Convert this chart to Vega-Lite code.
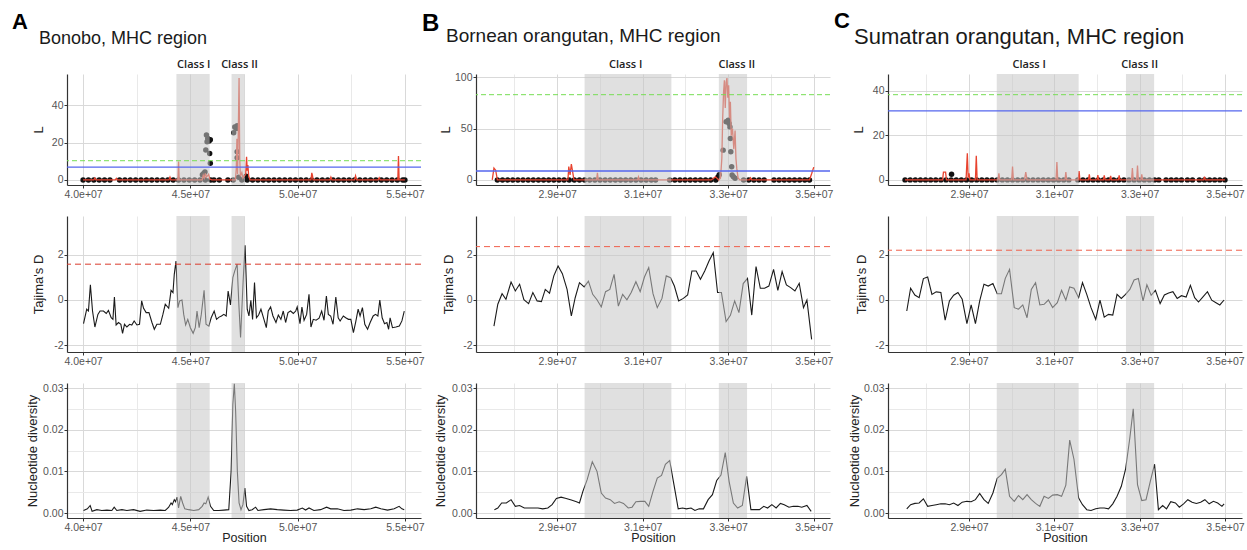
{
"$schema":"https://vega.github.io/schema/vega-lite/v6.json",
"padding":{"left":12,"top":10,"right":5,"bottom":3},
"spacing":-3,
"config":{"view":{"stroke":null},"font":"Liberation Sans",
"axis":{"domainColor":"#333333","domainWidth":1.2,"tickColor":"#333333","tickSize":3,"tickWidth":1,"labelColor":"#555555","labelFontSize":10.5,"labelPadding":1,"titleFontSize":13,"titleFontWeight":"normal","titleColor":"#222222","gridWidth":1,"labelFont":"Liberation Sans","titleFont":"Liberation Sans"}},
"datasets":{
"aR":[{"p":44.35,"p2":45.9,"m":45.16,"lab":"Class I"},{"p":46.92,"p2":47.54,"m":47.29,"lab":"Class II"}],
"bR":[{"p":29.64,"p2":31.67,"m":30.6,"lab":"Class I"},{"p":32.78,"p2":33.44,"m":33.2,"lab":"Class II"}],
"cR":[{"p":29.65,"p2":31.57,"m":30.41,"lab":"Class I"},{"p":32.68,"p2":33.34,"m":33.0,"lab":"Class II"}],
"aL":[{"p":40.0,"v":0},{"p":40.5,"v":0},{"p":40.55,"v":1.0},{"p":40.6,"v":0},{"p":41.5,"v":0},{"p":41.55,"v":0.8},{"p":41.6,"v":0},{"p":44.0,"v":0},{"p":44.05,"v":1.5},{"p":44.1,"v":0},{"p":44.42,"v":0},{"p":44.45,"v":9.8},{"p":44.48,"v":0},{"p":45.55,"v":0},{"p":45.6,"v":2.5},{"p":45.65,"v":1},{"p":45.7,"v":3.5},{"p":45.75,"v":1.5},{"p":45.85,"v":3},{"p":45.9,"v":0.5},{"p":46.0,"v":0},{"p":47.1,"v":0},{"p":47.14,"v":6},{"p":47.17,"v":22},{"p":47.2,"v":3},{"p":47.24,"v":30},{"p":47.27,"v":54.5},{"p":47.3,"v":12},{"p":47.33,"v":2},{"p":47.4,"v":4},{"p":47.45,"v":1},{"p":47.58,"v":3},{"p":47.62,"v":12.4},{"p":47.65,"v":5},{"p":47.68,"v":8},{"p":47.72,"v":2},{"p":47.78,"v":0},{"p":50.62,"v":0},{"p":50.66,"v":3.8},{"p":50.69,"v":2.5},{"p":50.72,"v":0},{"p":51.5,"v":0},{"p":51.55,"v":1.5},{"p":51.6,"v":0},{"p":52.65,"v":0},{"p":52.7,"v":2.2},{"p":52.75,"v":0},{"p":53.75,"v":0},{"p":53.8,"v":1.2},{"p":53.85,"v":0},{"p":54.67,"v":0},{"p":54.7,"v":12.8},{"p":54.73,"v":0},{"p":55.0,"v":0}],
"aP":[{"p":40.0,"v":0},{"p":40.25,"v":0},{"p":40.5,"v":0},{"p":40.75,"v":0},{"p":41.0,"v":0},{"p":41.25,"v":0},{"p":41.7,"v":0},{"p":41.95,"v":0},{"p":42.2,"v":0},{"p":42.45,"v":0},{"p":42.7,"v":0},{"p":42.95,"v":0},{"p":43.2,"v":0},{"p":43.45,"v":0},{"p":43.7,"v":0},{"p":43.95,"v":0},{"p":44.2,"v":0},{"p":44.45,"v":0},{"p":44.7,"v":0},{"p":44.95,"v":0},{"p":45.2,"v":0},{"p":45.45,"v":0},{"p":45.7,"v":0},{"p":45.95,"v":0},{"p":46.1,"v":0},{"p":46.35,"v":0},{"p":46.75,"v":0},{"p":47.0,"v":0},{"p":47.4,"v":0},{"p":47.65,"v":0},{"p":47.9,"v":0},{"p":48.15,"v":0},{"p":48.4,"v":0},{"p":48.65,"v":0},{"p":48.9,"v":0},{"p":49.15,"v":0},{"p":49.4,"v":0},{"p":49.65,"v":0},{"p":49.9,"v":0},{"p":50.15,"v":0},{"p":50.4,"v":0},{"p":50.65,"v":0},{"p":50.9,"v":0},{"p":51.15,"v":0},{"p":51.4,"v":0},{"p":51.65,"v":0},{"p":51.9,"v":0},{"p":52.15,"v":0},{"p":52.4,"v":0},{"p":52.65,"v":0},{"p":52.9,"v":0},{"p":53.15,"v":0},{"p":53.4,"v":0},{"p":53.65,"v":0},{"p":53.9,"v":0},{"p":54.15,"v":0},{"p":54.4,"v":0},{"p":54.65,"v":0},{"p":54.9,"v":0},{"p":55.0,"v":0},
{"p":45.56,"v":2.8},{"p":45.62,"v":3.5},{"p":45.68,"v":4.3},{"p":45.72,"v":16},{"p":45.75,"v":24},{"p":45.78,"v":20.5},{"p":45.81,"v":22.2},{"p":45.87,"v":20.8},{"p":45.9,"v":14.2},{"p":45.93,"v":21.5},{"p":45.93,"v":8.9},{"p":47.02,"v":25.2},{"p":47.07,"v":28.4},{"p":47.12,"v":28},{"p":47.15,"v":27.5},{"p":47.18,"v":29},{"p":47.18,"v":15.1},{"p":47.18,"v":11.9},{"p":47.25,"v":1.5},{"p":47.6,"v":2}],
"aD":[{"p":40.02,"v":-1.05},{"p":40.17,"v":-0.41},{"p":40.25,"v":-0.49},{"p":40.34,"v":0.67},{"p":40.44,"v":-0.49},{"p":40.55,"v":-1.2},{"p":40.69,"v":-0.64},{"p":40.79,"v":-0.49},{"p":40.95,"v":-0.49},{"p":41.08,"v":-0.6},{"p":41.18,"v":-0.46},{"p":41.31,"v":-0.79},{"p":41.39,"v":-0.86},{"p":41.46,"v":0.13},{"p":41.54,"v":-1.11},{"p":41.65,"v":-1.0},{"p":41.76,"v":-1.08},{"p":41.84,"v":-1.48},{"p":41.93,"v":-1.08},{"p":42.04,"v":-1.2},{"p":42.17,"v":-1.08},{"p":42.27,"v":-1.11},{"p":42.38,"v":-0.93},{"p":42.51,"v":-1.11},{"p":42.63,"v":-1.08},{"p":42.73,"v":-0.04},{"p":42.82,"v":-0.37},{"p":42.94,"v":-0.56},{"p":43.07,"v":-0.56},{"p":43.21,"v":-1.0},{"p":43.32,"v":-1.3},{"p":43.44,"v":-1.08},{"p":43.6,"v":-1.08},{"p":43.72,"v":-0.64},{"p":43.83,"v":-0.19},{"p":43.99,"v":-0.37},{"p":44.1,"v":0.43},{"p":44.19,"v":0.33},{"p":44.25,"v":1.14},{"p":44.33,"v":1.73},{"p":44.42,"v":-0.34},{"p":44.5,"v":-0.04},{"p":44.61,"v":0.0},{"p":44.69,"v":-0.64},{"p":44.78,"v":-1.11},{"p":44.88,"v":-0.86},{"p":45.0,"v":-1.23},{"p":45.13,"v":-1.48},{"p":45.23,"v":-1.23},{"p":45.31,"v":-0.49},{"p":45.41,"v":-1.23},{"p":45.51,"v":-0.64},{"p":45.64,"v":0.43},{"p":45.73,"v":-1.08},{"p":45.86,"v":-1.16},{"p":45.97,"v":-0.79},{"p":46.11,"v":-0.49},{"p":46.22,"v":-0.86},{"p":46.34,"v":-0.76},{"p":46.45,"v":-0.71},{"p":46.56,"v":-0.64},{"p":46.67,"v":-0.71},{"p":46.76,"v":0.4},{"p":46.87,"v":-0.22},{"p":46.98,"v":0.99},{"p":47.07,"v":1.29},{"p":47.18,"v":1.59},{"p":47.26,"v":-0.19},{"p":47.34,"v":-1.67},{"p":47.46,"v":0.84},{"p":47.55,"v":2.43},{"p":47.65,"v":-0.41},{"p":47.73,"v":-0.71},{"p":47.82,"v":-0.01},{"p":47.9,"v":-0.86},{"p":47.99,"v":0.77},{"p":48.08,"v":-0.79},{"p":48.18,"v":-0.67},{"p":48.29,"v":-0.41},{"p":48.43,"v":-0.86},{"p":48.54,"v":-1.23},{"p":48.63,"v":-0.49},{"p":48.74,"v":-0.31},{"p":48.85,"v":-0.71},{"p":48.99,"v":-1.0},{"p":49.1,"v":-0.67},{"p":49.22,"v":-0.86},{"p":49.33,"v":-0.49},{"p":49.44,"v":-1.0},{"p":49.55,"v":-0.56},{"p":49.67,"v":-0.49},{"p":49.8,"v":-0.6},{"p":49.91,"v":-0.49},{"p":49.98,"v":-0.31},{"p":50.11,"v":-1.05},{"p":50.2,"v":-0.31},{"p":50.3,"v":-0.9},{"p":50.42,"v":-0.64},{"p":50.53,"v":0.25},{"p":50.62,"v":-1.2},{"p":50.73,"v":-0.86},{"p":50.86,"v":-0.9},{"p":51.0,"v":-0.81},{"p":51.12,"v":-0.49},{"p":51.23,"v":-0.9},{"p":51.34,"v":0.18},{"p":51.43,"v":-0.64},{"p":51.54,"v":-0.71},{"p":51.65,"v":-1.08},{"p":51.78,"v":0.13},{"p":51.89,"v":-0.79},{"p":51.98,"v":-0.93},{"p":52.13,"v":-0.71},{"p":52.24,"v":-0.79},{"p":52.37,"v":-0.86},{"p":52.48,"v":-0.86},{"p":52.6,"v":-1.45},{"p":52.71,"v":-0.96},{"p":52.82,"v":-0.41},{"p":52.91,"v":-0.71},{"p":53.02,"v":-0.34},{"p":53.13,"v":-1.08},{"p":53.26,"v":-1.3},{"p":53.38,"v":-1.0},{"p":53.52,"v":-0.71},{"p":53.63,"v":-0.64},{"p":53.74,"v":-0.71},{"p":53.83,"v":0.0},{"p":53.94,"v":-0.79},{"p":54.05,"v":-1.05},{"p":54.16,"v":-1.0},{"p":54.24,"v":-1.3},{"p":54.31,"v":-0.79},{"p":54.42,"v":-1.23},{"p":54.58,"v":-1.2},{"p":54.74,"v":-1.16},{"p":54.86,"v":-0.93},{"p":54.97,"v":-0.49}],
"aN":[{"p":40.02,"v":0.0006},{"p":40.2,"v":0.001},{"p":40.33,"v":0.0018},{"p":40.42,"v":0.0004},{"p":40.64,"v":0.0008},{"p":40.87,"v":0.0006},{"p":41.11,"v":0.0007},{"p":41.34,"v":0.0006},{"p":41.45,"v":0.0014},{"p":41.57,"v":0.0006},{"p":41.81,"v":0.0008},{"p":42.04,"v":0.0006},{"p":42.35,"v":0.0008},{"p":42.66,"v":0.0004},{"p":42.97,"v":0.0007},{"p":43.29,"v":0.0006},{"p":43.6,"v":0.0007},{"p":43.83,"v":0.0006},{"p":43.99,"v":0.0014},{"p":44.1,"v":0.0024},{"p":44.16,"v":0.002},{"p":44.25,"v":0.0032},{"p":44.31,"v":0.0027},{"p":44.38,"v":0.0038},{"p":44.45,"v":0.0012},{"p":44.55,"v":0.004},{"p":44.64,"v":0.0024},{"p":44.74,"v":0.001},{"p":44.92,"v":0.0008},{"p":45.16,"v":0.0006},{"p":45.39,"v":0.0008},{"p":45.55,"v":0.0016},{"p":45.64,"v":0.0024},{"p":45.72,"v":0.0022},{"p":45.83,"v":0.0038},{"p":45.94,"v":0.0016},{"p":46.09,"v":0.0006},{"p":46.32,"v":0.0006},{"p":46.56,"v":0.0007},{"p":46.79,"v":0.0008},{"p":46.9,"v":0.01},{"p":46.98,"v":0.0261},{"p":47.05,"v":0.031},{"p":47.11,"v":0.0245},{"p":47.19,"v":0.01},{"p":47.27,"v":0.0024},{"p":47.36,"v":0.0008},{"p":47.45,"v":0.002},{"p":47.54,"v":0.006},{"p":47.62,"v":0.0016},{"p":47.73,"v":0.0006},{"p":47.88,"v":0.0008},{"p":48.04,"v":0.0014},{"p":48.15,"v":0.0006},{"p":48.43,"v":0.0008},{"p":48.74,"v":0.001},{"p":49.05,"v":0.0008},{"p":49.36,"v":0.0007},{"p":49.67,"v":0.0006},{"p":49.98,"v":0.0007},{"p":50.22,"v":0.0012},{"p":50.37,"v":0.0007},{"p":50.53,"v":0.0012},{"p":50.76,"v":0.0006},{"p":51.07,"v":0.0008},{"p":51.35,"v":0.0014},{"p":51.54,"v":0.001},{"p":51.85,"v":0.001},{"p":52.16,"v":0.0006},{"p":52.48,"v":0.0007},{"p":52.79,"v":0.001},{"p":53.1,"v":0.0008},{"p":53.41,"v":0.001},{"p":53.64,"v":0.0014},{"p":53.88,"v":0.001},{"p":54.19,"v":0.0007},{"p":54.5,"v":0.001},{"p":54.73,"v":0.0016},{"p":54.86,"v":0.001},{"p":54.97,"v":0.0008}],
"bL":[{"p":27.48,"v":0},{"p":27.52,"v":11.5},{"p":27.56,"v":9.5},{"p":27.6,"v":0},{"p":29.25,"v":0},{"p":29.27,"v":13},{"p":29.3,"v":5},{"p":29.33,"v":15.5},{"p":29.36,"v":8},{"p":29.39,"v":0},{"p":29.92,"v":0},{"p":29.94,"v":7},{"p":29.96,"v":0},{"p":30.88,"v":0},{"p":30.9,"v":3},{"p":30.92,"v":0},{"p":32.6,"v":0},{"p":32.7,"v":3},{"p":32.78,"v":0},{"p":32.82,"v":2},{"p":32.85,"v":21},{"p":32.87,"v":60},{"p":32.89,"v":85},{"p":32.91,"v":97},{"p":32.93,"v":70},{"p":32.95,"v":95},{"p":32.97,"v":99},{"p":32.99,"v":80},{"p":33.01,"v":92},{"p":33.03,"v":60},{"p":33.05,"v":76},{"p":33.07,"v":43},{"p":33.1,"v":50},{"p":33.13,"v":30},{"p":33.16,"v":48},{"p":33.18,"v":21},{"p":33.2,"v":11},{"p":33.23,"v":2},{"p":33.27,"v":0},{"p":33.5,"v":0},{"p":33.52,"v":2},{"p":33.55,"v":0},{"p":34.9,"v":0},{"p":34.95,"v":6},{"p":35.0,"v":12.5}],
"bP":[{"p":27.6,"v":0},{"p":27.72,"v":0},{"p":27.84,"v":0},{"p":27.96,"v":0},{"p":28.08,"v":0},{"p":28.2,"v":0},{"p":28.32,"v":0},{"p":28.44,"v":0},{"p":28.56,"v":0},{"p":28.68,"v":0},{"p":28.8,"v":0},{"p":28.92,"v":0},{"p":29.04,"v":0},{"p":29.16,"v":0},{"p":29.28,"v":0},{"p":29.4,"v":0},{"p":29.52,"v":0},{"p":29.64,"v":0},{"p":29.76,"v":0},{"p":29.88,"v":0},{"p":30.0,"v":0},{"p":30.12,"v":0},{"p":30.24,"v":0},{"p":30.36,"v":0},{"p":30.48,"v":0},{"p":30.6,"v":0},{"p":30.72,"v":0},{"p":30.84,"v":0},{"p":30.96,"v":0},{"p":31.08,"v":0},{"p":31.2,"v":0},{"p":31.3,"v":0},{"p":31.63,"v":0},{"p":31.75,"v":0},{"p":31.87,"v":0},{"p":31.99,"v":0},{"p":32.11,"v":0},{"p":32.23,"v":0},{"p":32.35,"v":0},{"p":32.47,"v":0},{"p":32.59,"v":0},{"p":32.71,"v":0},{"p":33.36,"v":0},{"p":33.48,"v":0},{"p":33.6,"v":0},{"p":33.72,"v":0},{"p":33.84,"v":0},{"p":34.07,"v":0},{"p":34.19,"v":0},{"p":34.31,"v":0},{"p":34.43,"v":0},{"p":34.55,"v":0},{"p":34.67,"v":0},{"p":34.79,"v":0},{"p":34.9,"v":0},
{"p":32.76,"v":3},{"p":32.79,"v":5},{"p":32.88,"v":29},{"p":32.95,"v":56.5},{"p":33.0,"v":58},{"p":33.02,"v":55},{"p":33.04,"v":51.6},{"p":33.05,"v":40.3},{"p":33.06,"v":27.4},{"p":33.08,"v":12.9},{"p":33.09,"v":4.8},{"p":33.12,"v":3.2},{"p":33.16,"v":1.6}],
"bD":[{"p":27.52,"v":-1.16},{"p":27.61,"v":-0.19},{"p":27.71,"v":0.28},{"p":27.8,"v":0.03},{"p":27.92,"v":0.8},{"p":28.02,"v":0.4},{"p":28.12,"v":0.7},{"p":28.22,"v":0.01},{"p":28.33,"v":-0.16},{"p":28.43,"v":0.33},{"p":28.53,"v":-0.04},{"p":28.63,"v":-0.07},{"p":28.72,"v":0.47},{"p":28.82,"v":0.3},{"p":28.92,"v":1.07},{"p":29.02,"v":1.51},{"p":29.12,"v":1.17},{"p":29.23,"v":0.47},{"p":29.33,"v":-0.71},{"p":29.42,"v":0.1},{"p":29.52,"v":0.77},{"p":29.63,"v":0.58},{"p":29.73,"v":0.84},{"p":29.83,"v":0.25},{"p":29.93,"v":0.01},{"p":30.03,"v":-0.31},{"p":30.13,"v":0.37},{"p":30.23,"v":0.47},{"p":30.33,"v":1.14},{"p":30.43,"v":-0.27},{"p":30.53,"v":0.25},{"p":30.63,"v":0.01},{"p":30.73,"v":0.33},{"p":30.84,"v":0.81},{"p":30.94,"v":0.37},{"p":31.04,"v":1.02},{"p":31.14,"v":1.44},{"p":31.24,"v":0.28},{"p":31.34,"v":-0.34},{"p":31.45,"v":0.07},{"p":31.55,"v":1.07},{"p":31.65,"v":0.99},{"p":31.74,"v":0.62},{"p":31.84,"v":-0.04},{"p":31.95,"v":0.07},{"p":32.05,"v":0.22},{"p":32.15,"v":1.29},{"p":32.25,"v":1.29},{"p":32.35,"v":0.92},{"p":32.45,"v":1.29},{"p":32.55,"v":1.73},{"p":32.65,"v":2.1},{"p":32.75,"v":0.33},{"p":32.84,"v":0.33},{"p":32.95,"v":-0.96},{"p":33.05,"v":-0.68},{"p":33.15,"v":-0.04},{"p":33.25,"v":-0.56},{"p":33.35,"v":0.73},{"p":33.45,"v":0.96},{"p":33.55,"v":-0.67},{"p":33.65,"v":1.48},{"p":33.75,"v":0.52},{"p":33.85,"v":0.52},{"p":33.95,"v":0.62},{"p":34.06,"v":1.36},{"p":34.16,"v":0.43},{"p":34.26,"v":1.26},{"p":34.36,"v":0.67},{"p":34.46,"v":0.55},{"p":34.56,"v":0.4},{"p":34.66,"v":0.74},{"p":34.76,"v":-0.34},{"p":34.84,"v":0.0},{"p":34.95,"v":-1.75}],
"bN":[{"p":27.53,"v":0.0008},{"p":27.61,"v":0.0012},{"p":27.7,"v":0.0024},{"p":27.81,"v":0.0024},{"p":27.92,"v":0.0032},{"p":28.02,"v":0.0016},{"p":28.12,"v":0.0018},{"p":28.23,"v":0.0012},{"p":28.39,"v":0.0012},{"p":28.55,"v":0.0012},{"p":28.66,"v":0.001},{"p":28.78,"v":0.0012},{"p":28.88,"v":0.002},{"p":28.98,"v":0.0035},{"p":29.09,"v":0.0038},{"p":29.21,"v":0.0035},{"p":29.33,"v":0.0031},{"p":29.45,"v":0.0027},{"p":29.52,"v":0.0024},{"p":29.6,"v":0.0052},{"p":29.7,"v":0.008},{"p":29.82,"v":0.0123},{"p":29.93,"v":0.01},{"p":30.03,"v":0.0048},{"p":30.13,"v":0.0036},{"p":30.24,"v":0.0032},{"p":30.34,"v":0.0023},{"p":30.45,"v":0.0027},{"p":30.55,"v":0.0023},{"p":30.66,"v":0.0012},{"p":30.75,"v":0.0014},{"p":30.84,"v":0.0027},{"p":30.95,"v":0.0028},{"p":31.05,"v":0.0028},{"p":31.14,"v":0.0016},{"p":31.24,"v":0.0052},{"p":31.34,"v":0.0084},{"p":31.44,"v":0.009},{"p":31.53,"v":0.0117},{"p":31.63,"v":0.0126},{"p":31.73,"v":0.0068},{"p":31.83,"v":0.001},{"p":31.93,"v":0.0012},{"p":32.02,"v":0.001},{"p":32.13,"v":0.0012},{"p":32.22,"v":0.0006},{"p":32.32,"v":0.001},{"p":32.42,"v":0.001},{"p":32.53,"v":0.0032},{"p":32.63,"v":0.0044},{"p":32.73,"v":0.0078},{"p":32.83,"v":0.0091},{"p":32.93,"v":0.0145},{"p":33.02,"v":0.0076},{"p":33.12,"v":0.0024},{"p":33.22,"v":0.0012},{"p":33.33,"v":0.0018},{"p":33.43,"v":0.0088},{"p":33.53,"v":0.0008},{"p":33.63,"v":0.0008},{"p":33.73,"v":0.0008},{"p":33.83,"v":0.0016},{"p":33.92,"v":0.0012},{"p":34.02,"v":0.002},{"p":34.12,"v":0.0012},{"p":34.22,"v":0.0023},{"p":34.31,"v":0.002},{"p":34.42,"v":0.0014},{"p":34.52,"v":0.0016},{"p":34.63,"v":0.0016},{"p":34.72,"v":0.0014},{"p":34.84,"v":0.0018},{"p":34.94,"v":0.0004}],
"cL":[{"p":27.5,"v":0},{"p":28.38,"v":0},{"p":28.4,"v":3.5},{"p":28.45,"v":3.5},{"p":28.47,"v":0},{"p":28.93,"v":0},{"p":28.96,"v":12},{"p":28.98,"v":1},{"p":29.0,"v":3},{"p":29.02,"v":0},{"p":29.15,"v":0},{"p":29.17,"v":10.8},{"p":29.19,"v":0},{"p":29.68,"v":0},{"p":29.7,"v":3},{"p":29.72,"v":0},{"p":30.0,"v":0},{"p":30.02,"v":6},{"p":30.04,"v":0},{"p":30.3,"v":0},{"p":30.33,"v":3.5},{"p":30.36,"v":0},{"p":31.04,"v":0},{"p":31.06,"v":8},{"p":31.08,"v":0},{"p":31.25,"v":0},{"p":31.27,"v":3.5},{"p":31.29,"v":0},{"p":31.56,"v":0},{"p":31.58,"v":4},{"p":31.6,"v":0},{"p":31.8,"v":0},{"p":31.82,"v":2.5},{"p":31.84,"v":0},{"p":32.0,"v":0},{"p":32.02,"v":2.2},{"p":32.04,"v":0},{"p":32.15,"v":0},{"p":32.17,"v":2},{"p":32.19,"v":0},{"p":32.3,"v":0},{"p":32.32,"v":1.8},{"p":32.34,"v":0},{"p":32.5,"v":0},{"p":32.52,"v":2},{"p":32.54,"v":0},{"p":32.81,"v":0},{"p":32.83,"v":5.3},{"p":32.85,"v":0},{"p":32.93,"v":0},{"p":32.95,"v":6.4},{"p":32.97,"v":0},{"p":33.03,"v":0},{"p":33.05,"v":2.5},{"p":33.07,"v":0},{"p":34.5,"v":0},{"p":34.52,"v":1.5},{"p":34.54,"v":0},{"p":35.0,"v":0}],
"cP":[{"p":27.5,"v":0},{"p":27.62,"v":0},{"p":27.74,"v":0},{"p":27.86,"v":0},{"p":27.98,"v":0},{"p":28.1,"v":0},{"p":28.22,"v":0},{"p":28.34,"v":0},{"p":28.46,"v":0},{"p":28.58,"v":0},{"p":28.7,"v":0},{"p":28.82,"v":0},{"p":28.94,"v":0},{"p":29.06,"v":0},{"p":29.18,"v":0},{"p":29.3,"v":0},{"p":29.42,"v":0},{"p":29.54,"v":0},{"p":29.66,"v":0},{"p":29.78,"v":0},{"p":29.9,"v":0},{"p":30.02,"v":0},{"p":30.14,"v":0},{"p":30.26,"v":0},{"p":30.38,"v":0},{"p":30.5,"v":0},{"p":30.62,"v":0},{"p":30.74,"v":0},{"p":30.86,"v":0},{"p":30.98,"v":0},{"p":31.1,"v":0},{"p":31.22,"v":0},{"p":31.34,"v":0},{"p":31.55,"v":0},{"p":31.67,"v":0},{"p":31.79,"v":0},{"p":31.91,"v":0},{"p":32.03,"v":0},{"p":32.15,"v":0},{"p":32.27,"v":0},{"p":32.39,"v":0},{"p":32.51,"v":0},{"p":32.63,"v":0},{"p":32.75,"v":0},{"p":32.87,"v":0},{"p":32.99,"v":0},{"p":33.11,"v":0},{"p":33.23,"v":0},{"p":33.35,"v":0},{"p":33.45,"v":0},{"p":33.62,"v":0},{"p":33.74,"v":0},{"p":33.86,"v":0},{"p":33.98,"v":0},{"p":34.12,"v":0},{"p":34.24,"v":0},{"p":34.4,"v":0},{"p":34.52,"v":0},{"p":34.64,"v":0},{"p":34.76,"v":0},{"p":34.88,"v":0},{"p":35.0,"v":0},{"p":28.59,"v":2.5}],
"cD":[{"p":27.54,"v":-0.49},{"p":27.63,"v":0.52},{"p":27.73,"v":0.22},{"p":27.83,"v":0.1},{"p":27.93,"v":0.95},{"p":28.03,"v":1.02},{"p":28.13,"v":0.25},{"p":28.23,"v":0.36},{"p":28.34,"v":0.33},{"p":28.44,"v":-0.9},{"p":28.54,"v":-0.04},{"p":28.64,"v":0.21},{"p":28.74,"v":0.33},{"p":28.84,"v":0.03},{"p":28.95,"v":-1.05},{"p":29.05,"v":-0.22},{"p":29.15,"v":-1.05},{"p":29.25,"v":-0.04},{"p":29.35,"v":0.7},{"p":29.45,"v":0.62},{"p":29.56,"v":0.73},{"p":29.66,"v":0.28},{"p":29.76,"v":0.28},{"p":29.85,"v":0.96},{"p":29.95,"v":1.36},{"p":30.06,"v":-0.34},{"p":30.16,"v":-0.41},{"p":30.26,"v":-0.22},{"p":30.36,"v":-0.79},{"p":30.46,"v":0.47},{"p":30.56,"v":0.77},{"p":30.66,"v":-0.22},{"p":30.76,"v":-0.19},{"p":30.86,"v":0.0},{"p":30.96,"v":-0.34},{"p":31.07,"v":-0.12},{"p":31.17,"v":0.43},{"p":31.27,"v":-0.01},{"p":31.36,"v":0.58},{"p":31.46,"v":0.52},{"p":31.57,"v":0.1},{"p":31.66,"v":0.77},{"p":31.76,"v":0.25},{"p":31.86,"v":-0.34},{"p":31.97,"v":-0.86},{"p":32.07,"v":-0.01},{"p":32.17,"v":-0.76},{"p":32.27,"v":-0.64},{"p":32.37,"v":-0.67},{"p":32.47,"v":0.25},{"p":32.57,"v":0.07},{"p":32.67,"v":0.25},{"p":32.77,"v":0.47},{"p":32.87,"v":0.89},{"p":32.97,"v":0.96},{"p":33.08,"v":-0.04},{"p":33.17,"v":0.67},{"p":33.27,"v":0.21},{"p":33.37,"v":0.43},{"p":33.48,"v":-0.16},{"p":33.58,"v":0.22},{"p":33.68,"v":0.31},{"p":33.78,"v":0.37},{"p":33.88,"v":0.07},{"p":33.98,"v":0.19},{"p":34.09,"v":0.13},{"p":34.19,"v":0.65},{"p":34.29,"v":0.1},{"p":34.38,"v":-0.09},{"p":34.48,"v":0.13},{"p":34.59,"v":0.37},{"p":34.69,"v":-0.01},{"p":34.79,"v":-0.12},{"p":34.88,"v":-0.22},{"p":34.98,"v":0.0}],
"cN":[{"p":27.54,"v":0.001},{"p":27.63,"v":0.002},{"p":27.73,"v":0.0023},{"p":27.83,"v":0.0024},{"p":27.93,"v":0.0034},{"p":28.03,"v":0.0016},{"p":28.13,"v":0.0018},{"p":28.23,"v":0.002},{"p":28.34,"v":0.0022},{"p":28.44,"v":0.0022},{"p":28.54,"v":0.002},{"p":28.64,"v":0.0024},{"p":28.74,"v":0.0018},{"p":28.84,"v":0.0026},{"p":28.95,"v":0.0028},{"p":29.05,"v":0.0027},{"p":29.15,"v":0.0032},{"p":29.25,"v":0.0047},{"p":29.35,"v":0.0032},{"p":29.45,"v":0.0023},{"p":29.56,"v":0.0048},{"p":29.66,"v":0.0083},{"p":29.76,"v":0.0092},{"p":29.85,"v":0.0105},{"p":29.95,"v":0.004},{"p":30.06,"v":0.0028},{"p":30.16,"v":0.0042},{"p":30.26,"v":0.0032},{"p":30.36,"v":0.0044},{"p":30.46,"v":0.0032},{"p":30.56,"v":0.0023},{"p":30.66,"v":0.0016},{"p":30.76,"v":0.004},{"p":30.86,"v":0.0035},{"p":30.96,"v":0.0043},{"p":31.07,"v":0.0044},{"p":31.17,"v":0.004},{"p":31.27,"v":0.0067},{"p":31.36,"v":0.0175},{"p":31.46,"v":0.0129},{"p":31.57,"v":0.0036},{"p":31.66,"v":0.002},{"p":31.76,"v":0.0008},{"p":31.86,"v":0.0006},{"p":31.97,"v":0.001},{"p":32.07,"v":0.0012},{"p":32.17,"v":0.0012},{"p":32.27,"v":0.001},{"p":32.37,"v":0.0022},{"p":32.47,"v":0.004},{"p":32.57,"v":0.0064},{"p":32.67,"v":0.0105},{"p":32.77,"v":0.018},{"p":32.85,"v":0.025},{"p":32.95,"v":0.0068},{"p":33.05,"v":0.003},{"p":33.15,"v":0.0032},{"p":33.25,"v":0.0076},{"p":33.35,"v":0.0117},{"p":33.44,"v":0.0008},{"p":33.54,"v":0.0018},{"p":33.63,"v":0.001},{"p":33.73,"v":0.0027},{"p":33.84,"v":0.0024},{"p":33.93,"v":0.0014},{"p":34.03,"v":0.0022},{"p":34.13,"v":0.0032},{"p":34.23,"v":0.0026},{"p":34.33,"v":0.0023},{"p":34.43,"v":0.0026},{"p":34.53,"v":0.0032},{"p":34.63,"v":0.0022},{"p":34.73,"v":0.0028},{"p":34.83,"v":0.0024},{"p":34.93,"v":0.0016},{"p":34.98,"v":0.0022}]
},
"hconcat":[
{"title":{"text":"A","anchor":"start","frame":"group","dx":-55,"fontSize":22,"fontWeight":"bold","offset":-4,"color":"#000000"},
 "bounds":"flush","spacing":31,
 "vconcat":[
 {"title":{"text":"Bonobo, MHC region","anchor":"start","frame":"group","dx":-28,"fontSize":18,"fontWeight":"normal","offset":11,"color":"#1a1a1a"},
  "width":354,"height":111,
  "layer":[
   {"data":{"name":"aP"},"mark":{"type":"circle","size":30,"color":"#111111","opacity":1},
    "encoding":{"x":{"field":"p","type":"quantitative","scale":{"domain":[39.25,55.75],"nice":false,"zero":false},"axis":{"title":null,"values":[40,42.5,45,47.5,50,52.5,55],"labelExpr":"(datum.value-40)%5!=0?'':replace(format(datum.value*1e6,'.1e'),'e+','e+0')","gridColor":{"condition":{"test":"(datum.value-40)%5!=0","value":"#e9e9e9"},"value":"#d9d9d9"},"tickOpacity":{"condition":{"test":"(datum.value-40)%5!=0","value":0},"value":1},"labelFlush":false,"labelOverlap":false}},
     "y":{"field":"v","type":"quantitative","scale":{"domain":[-2.7,56.7],"nice":false,"zero":false},"axis":{"title":"L","titleX":-29,"titleBaseline":"middle","values":[0,10,20,30,40,50],"labelExpr":"datum.value%20!=0?'':''+datum.value","gridColor":{"condition":{"test":"datum.value%20!=0","value":"#e9e9e9"},"value":"#d9d9d9"},"tickOpacity":{"condition":{"test":"datum.value%20!=0","value":0},"value":1}}}}},
   {"data":{"name":"aL"},"mark":{"type":"line","color":"#e8432f","strokeWidth":1.3},
    "encoding":{"x":{"field":"p","type":"quantitative","scale":{"domain":[39.25,55.75],"nice":false,"zero":false}},"y":{"field":"v","type":"quantitative","scale":{"domain":[-2.7,56.7],"nice":false,"zero":false}}}},
   {"data":{"name":"aR"},"mark":{"type":"rect","color":"#c6c6c6","opacity":0.55},
    "encoding":{"x":{"field":"p","type":"quantitative","scale":{"domain":[39.25,55.75],"nice":false,"zero":false}},"x2":{"field":"p2"}}},
   {"data":{"values":[{"v":10.3}]},"mark":{"type":"rule","color":"#77dd55","strokeDash":[5,3],"strokeWidth":1},
    "encoding":{"y":{"field":"v","type":"quantitative","scale":{"domain":[-2.7,56.7],"nice":false,"zero":false}}}},
   {"data":{"values":[{"v":6.9}]},"mark":{"type":"rule","color":"#5566ee","strokeWidth":1.3},
    "encoding":{"y":{"field":"v","type":"quantitative","scale":{"domain":[-2.7,56.7],"nice":false,"zero":false}}}},
   {"data":{"name":"aR"},"mark":{"type":"text","y":0,"dy":-4,"baseline":"bottom","font":"Open Sans","fontSize":11,"fontWeight":600,"color":"#222222"},
    "encoding":{"x":{"field":"m","type":"quantitative","scale":{"domain":[39.25,55.75],"nice":false,"zero":false}},"text":{"field":"lab"}}}
  ]},
 {"width":354,"height":136,
  "layer":[
   {"data":{"name":"aD"},"mark":{"type":"line","color":"#1a1a1a","strokeWidth":1.1},
    "encoding":{"x":{"field":"p","type":"quantitative","scale":{"domain":[39.25,55.75],"nice":false,"zero":false},"axis":{"title":null,"values":[40,42.5,45,47.5,50,52.5,55],"labelExpr":"(datum.value-40)%5!=0?'':replace(format(datum.value*1e6,'.1e'),'e+','e+0')","gridColor":{"condition":{"test":"(datum.value-40)%5!=0","value":"#e9e9e9"},"value":"#d9d9d9"},"tickOpacity":{"condition":{"test":"(datum.value-40)%5!=0","value":0},"value":1},"labelFlush":false,"labelOverlap":false}},
     "y":{"field":"v","type":"quantitative","scale":{"domain":[-2.31,3.73],"nice":false,"zero":false},"axis":{"title":"Tajima's D","titleX":-29,"titleBaseline":"middle","values":[-2,-1,0,1,2,3],"labelExpr":"datum.value%2!=0?'':''+datum.value","gridColor":{"condition":{"test":"datum.value%2!=0","value":"#e9e9e9"},"value":"#d9d9d9"},"tickOpacity":{"condition":{"test":"datum.value%2!=0","value":0},"value":1}}}}},
   {"data":{"name":"aR"},"mark":{"type":"rect","color":"#c6c6c6","opacity":0.55},
    "encoding":{"x":{"field":"p","type":"quantitative","scale":{"domain":[39.25,55.75],"nice":false,"zero":false}},"x2":{"field":"p2"}}},
   {"data":{"values":[{"v":1.59}]},"mark":{"type":"rule","color":"#d93a2b","strokeDash":[6,4],"strokeWidth":1},
    "encoding":{"y":{"field":"v","type":"quantitative","scale":{"domain":[-2.31,3.73],"nice":false,"zero":false}}}}
  ]},
 {"width":354,"height":135,
  "layer":[
   {"data":{"name":"aN"},"mark":{"type":"line","color":"#1a1a1a","strokeWidth":1.1},
    "encoding":{"x":{"field":"p","type":"quantitative","scale":{"domain":[39.25,55.75],"nice":false,"zero":false},"axis":{"title":"Position","titleY":19,"titleBaseline":"middle","titleFontSize":12.5,"values":[40,42.5,45,47.5,50,52.5,55],"labelExpr":"(datum.value-40)%5!=0?'':replace(format(datum.value*1e6,'.1e'),'e+','e+0')","gridColor":{"condition":{"test":"(datum.value-40)%5!=0","value":"#e9e9e9"},"value":"#d9d9d9"},"tickOpacity":{"condition":{"test":"(datum.value-40)%5!=0","value":0},"value":1},"labelFlush":false,"labelOverlap":false}},
     "y":{"field":"v","type":"quantitative","scale":{"domain":[-0.0012,0.0312],"nice":false,"zero":false},"axis":{"title":"Nucleotide diversity","titleX":-35,"titleBaseline":"middle","values":[0,0.005,0.01,0.015,0.02,0.025,0.03],"labelExpr":"round(datum.value*1000)%10!=0?'':format(datum.value,'.2f')","gridColor":{"condition":{"test":"round(datum.value*1000)%10!=0","value":"#e9e9e9"},"value":"#d9d9d9"},"tickOpacity":{"condition":{"test":"round(datum.value*1000)%10!=0","value":0},"value":1}}}}},
   {"data":{"name":"aR"},"mark":{"type":"rect","color":"#c6c6c6","opacity":0.55},
    "encoding":{"x":{"field":"p","type":"quantitative","scale":{"domain":[39.25,55.75],"nice":false,"zero":false}},"x2":{"field":"p2"}}}
  ]}
 ]},
{"spacing":1,
 "hconcat":[
{"title":{"text":"B","anchor":"start","frame":"group","dx":-54,"fontSize":24,"fontWeight":"bold","offset":-9,"color":"#000000"},
 "bounds":"flush","spacing":31,
 "vconcat":[
 {"title":{"text":"Bornean orangutan, MHC region","anchor":"start","frame":"group","dx":-30,"fontSize":19,"fontWeight":"normal","offset":13,"color":"#1a1a1a"},
  "width":354,"height":111,
  "layer":[
   {"data":{"name":"bP"},"mark":{"type":"circle","size":30,"color":"#111111","opacity":1},
    "encoding":{"x":{"field":"p","type":"quantitative","scale":{"domain":[27.1,35.38],"nice":false,"zero":false},"axis":{"title":null,"values":[28,29,30,31,32,33,34,35],"labelExpr":"(datum.value-29)%2!=0?'':replace(format(datum.value*1e6,'.1e'),'e+','e+0')","gridColor":{"condition":{"test":"(datum.value-29)%2!=0","value":"#e9e9e9"},"value":"#d9d9d9"},"tickOpacity":{"condition":{"test":"(datum.value-29)%2!=0","value":0},"value":1},"labelFlush":false,"labelOverlap":false}},
     "y":{"field":"v","type":"quantitative","scale":{"domain":[-4.9,103],"nice":false,"zero":false},"axis":{"title":"L","titleX":-31,"titleBaseline":"middle","values":[0,12.5,25,37.5,50,62.5,75,87.5,100],"labelExpr":"datum.value%25!=0?'':''+datum.value","gridColor":{"condition":{"test":"datum.value%25!=0","value":"#e9e9e9"},"value":"#d9d9d9"},"tickOpacity":{"condition":{"test":"datum.value%25!=0","value":0},"value":1}}}}},
   {"data":{"name":"bL"},"mark":{"type":"line","color":"#e8432f","strokeWidth":1.3},
    "encoding":{"x":{"field":"p","type":"quantitative","scale":{"domain":[27.1,35.38],"nice":false,"zero":false}},"y":{"field":"v","type":"quantitative","scale":{"domain":[-4.9,103],"nice":false,"zero":false}}}},
   {"data":{"name":"bR"},"mark":{"type":"rect","color":"#c6c6c6","opacity":0.55},
    "encoding":{"x":{"field":"p","type":"quantitative","scale":{"domain":[27.1,35.38],"nice":false,"zero":false}},"x2":{"field":"p2"}}},
   {"data":{"values":[{"v":82.9}]},"mark":{"type":"rule","color":"#77dd55","strokeDash":[5,3],"strokeWidth":1},
    "encoding":{"y":{"field":"v","type":"quantitative","scale":{"domain":[-4.9,103],"nice":false,"zero":false}}}},
   {"data":{"values":[{"v":8.7}]},"mark":{"type":"rule","color":"#5566ee","strokeWidth":1.3},
    "encoding":{"y":{"field":"v","type":"quantitative","scale":{"domain":[-4.9,103],"nice":false,"zero":false}}}},
   {"data":{"name":"bR"},"mark":{"type":"text","y":0,"dy":-4,"baseline":"bottom","font":"Open Sans","fontSize":11,"fontWeight":600,"color":"#222222"},
    "encoding":{"x":{"field":"m","type":"quantitative","scale":{"domain":[27.1,35.38],"nice":false,"zero":false}},"text":{"field":"lab"}}}
  ]},
 {"width":354,"height":136,
  "layer":[
   {"data":{"name":"bD"},"mark":{"type":"line","color":"#1a1a1a","strokeWidth":1.1},
    "encoding":{"x":{"field":"p","type":"quantitative","scale":{"domain":[27.1,35.38],"nice":false,"zero":false},"axis":{"title":null,"values":[28,29,30,31,32,33,34,35],"labelExpr":"(datum.value-29)%2!=0?'':replace(format(datum.value*1e6,'.1e'),'e+','e+0')","gridColor":{"condition":{"test":"(datum.value-29)%2!=0","value":"#e9e9e9"},"value":"#d9d9d9"},"tickOpacity":{"condition":{"test":"(datum.value-29)%2!=0","value":0},"value":1},"labelFlush":false,"labelOverlap":false}},
     "y":{"field":"v","type":"quantitative","scale":{"domain":[-2.31,3.73],"nice":false,"zero":false},"axis":{"title":"Tajima's D","titleX":-28,"titleBaseline":"middle","values":[-2,-1,0,1,2,3],"labelExpr":"datum.value%2!=0?'':''+datum.value","gridColor":{"condition":{"test":"datum.value%2!=0","value":"#e9e9e9"},"value":"#d9d9d9"},"tickOpacity":{"condition":{"test":"datum.value%2!=0","value":0},"value":1}}}}},
   {"data":{"name":"bR"},"mark":{"type":"rect","color":"#c6c6c6","opacity":0.55},
    "encoding":{"x":{"field":"p","type":"quantitative","scale":{"domain":[27.1,35.38],"nice":false,"zero":false}},"x2":{"field":"p2"}}},
   {"data":{"values":[{"v":2.37}]},"mark":{"type":"rule","color":"#f0604c","strokeDash":[6,4],"strokeWidth":1},
    "encoding":{"y":{"field":"v","type":"quantitative","scale":{"domain":[-2.31,3.73],"nice":false,"zero":false}}}}
  ]},
 {"width":354,"height":135,
  "layer":[
   {"data":{"name":"bN"},"mark":{"type":"line","color":"#1a1a1a","strokeWidth":1.1},
    "encoding":{"x":{"field":"p","type":"quantitative","scale":{"domain":[27.1,35.38],"nice":false,"zero":false},"axis":{"title":"Position","titleY":19,"titleBaseline":"middle","titleFontSize":12.5,"values":[28,29,30,31,32,33,34,35],"labelExpr":"(datum.value-29)%2!=0?'':replace(format(datum.value*1e6,'.1e'),'e+','e+0')","gridColor":{"condition":{"test":"(datum.value-29)%2!=0","value":"#e9e9e9"},"value":"#d9d9d9"},"tickOpacity":{"condition":{"test":"(datum.value-29)%2!=0","value":0},"value":1},"labelFlush":false,"labelOverlap":false}},
     "y":{"field":"v","type":"quantitative","scale":{"domain":[-0.0012,0.0312],"nice":false,"zero":false},"axis":{"title":"Nucleotide diversity","titleX":-36,"titleBaseline":"middle","values":[0,0.005,0.01,0.015,0.02,0.025,0.03],"labelExpr":"round(datum.value*1000)%10!=0?'':format(datum.value,'.2f')","gridColor":{"condition":{"test":"round(datum.value*1000)%10!=0","value":"#e9e9e9"},"value":"#d9d9d9"},"tickOpacity":{"condition":{"test":"round(datum.value*1000)%10!=0","value":0},"value":1}}}}},
   {"data":{"name":"bR"},"mark":{"type":"rect","color":"#c6c6c6","opacity":0.55},
    "encoding":{"x":{"field":"p","type":"quantitative","scale":{"domain":[27.1,35.38],"nice":false,"zero":false}},"x2":{"field":"p2"}}}
  ]}
 ]},
{"title":{"text":"C","anchor":"start","frame":"group","dx":-54,"fontSize":22,"fontWeight":"bold","offset":-7,"color":"#000000"},
 "bounds":"flush","spacing":31,
 "vconcat":[
 {"title":{"text":"Sumatran orangutan, MHC region","anchor":"start","frame":"group","dx":-34,"fontSize":22,"fontWeight":"normal","offset":10,"color":"#1a1a1a"},
  "width":354,"height":111,
  "layer":[
   {"data":{"name":"cP"},"mark":{"type":"circle","size":30,"color":"#111111","opacity":1},
    "encoding":{"x":{"field":"p","type":"quantitative","scale":{"domain":[27.1,35.4],"nice":false,"zero":false},"axis":{"title":null,"values":[28,29,30,31,32,33,34,35],"labelExpr":"(datum.value-29)%2!=0?'':replace(format(datum.value*1e6,'.1e'),'e+','e+0')","gridColor":{"condition":{"test":"(datum.value-29)%2!=0","value":"#e9e9e9"},"value":"#d9d9d9"},"tickOpacity":{"condition":{"test":"(datum.value-29)%2!=0","value":0},"value":1},"labelFlush":false,"labelOverlap":false}},
     "y":{"field":"v","type":"quantitative","scale":{"domain":[-2.3,47.6],"nice":false,"zero":false},"axis":{"title":"L","titleX":-30,"titleBaseline":"middle","values":[0,5,10,15,20,25,30,35,40,45],"labelExpr":"datum.value%10!=0?'':''+datum.value","gridColor":{"condition":{"test":"datum.value%10!=0","value":"#e9e9e9"},"value":"#d9d9d9"},"tickOpacity":{"condition":{"test":"datum.value%10!=0","value":0},"value":1}}}}},
   {"data":{"name":"cL"},"mark":{"type":"line","color":"#e8432f","strokeWidth":1.3},
    "encoding":{"x":{"field":"p","type":"quantitative","scale":{"domain":[27.1,35.4],"nice":false,"zero":false}},"y":{"field":"v","type":"quantitative","scale":{"domain":[-2.3,47.6],"nice":false,"zero":false}}}},
   {"data":{"name":"cR"},"mark":{"type":"rect","color":"#c6c6c6","opacity":0.55},
    "encoding":{"x":{"field":"p","type":"quantitative","scale":{"domain":[27.1,35.4],"nice":false,"zero":false}},"x2":{"field":"p2"}}},
   {"data":{"values":[{"v":38.3}]},"mark":{"type":"rule","color":"#77dd55","strokeDash":[5,3],"strokeWidth":1},
    "encoding":{"y":{"field":"v","type":"quantitative","scale":{"domain":[-2.3,47.6],"nice":false,"zero":false}}}},
   {"data":{"values":[{"v":31.0}]},"mark":{"type":"rule","color":"#5566ee","strokeWidth":1.3},
    "encoding":{"y":{"field":"v","type":"quantitative","scale":{"domain":[-2.3,47.6],"nice":false,"zero":false}}}},
   {"data":{"name":"cR"},"mark":{"type":"text","y":0,"dy":-4,"baseline":"bottom","font":"Open Sans","fontSize":11,"fontWeight":600,"color":"#222222"},
    "encoding":{"x":{"field":"m","type":"quantitative","scale":{"domain":[27.1,35.4],"nice":false,"zero":false}},"text":{"field":"lab"}}}
  ]},
 {"width":354,"height":136,
  "layer":[
   {"data":{"name":"cD"},"mark":{"type":"line","color":"#1a1a1a","strokeWidth":1.1},
    "encoding":{"x":{"field":"p","type":"quantitative","scale":{"domain":[27.1,35.4],"nice":false,"zero":false},"axis":{"title":null,"values":[28,29,30,31,32,33,34,35],"labelExpr":"(datum.value-29)%2!=0?'':replace(format(datum.value*1e6,'.1e'),'e+','e+0')","gridColor":{"condition":{"test":"(datum.value-29)%2!=0","value":"#e9e9e9"},"value":"#d9d9d9"},"tickOpacity":{"condition":{"test":"(datum.value-29)%2!=0","value":0},"value":1},"labelFlush":false,"labelOverlap":false}},
     "y":{"field":"v","type":"quantitative","scale":{"domain":[-2.31,3.73],"nice":false,"zero":false},"axis":{"title":"Tajima's D","titleX":-27,"titleBaseline":"middle","values":[-2,-1,0,1,2,3],"labelExpr":"datum.value%2!=0?'':''+datum.value","gridColor":{"condition":{"test":"datum.value%2!=0","value":"#e9e9e9"},"value":"#d9d9d9"},"tickOpacity":{"condition":{"test":"datum.value%2!=0","value":0},"value":1}}}}},
   {"data":{"name":"cR"},"mark":{"type":"rect","color":"#c6c6c6","opacity":0.55},
    "encoding":{"x":{"field":"p","type":"quantitative","scale":{"domain":[27.1,35.4],"nice":false,"zero":false}},"x2":{"field":"p2"}}},
   {"data":{"values":[{"v":2.21}]},"mark":{"type":"rule","color":"#f0604c","strokeDash":[6,4],"strokeWidth":1},
    "encoding":{"y":{"field":"v","type":"quantitative","scale":{"domain":[-2.31,3.73],"nice":false,"zero":false}}}}
  ]},
 {"width":354,"height":135,
  "layer":[
   {"data":{"name":"cN"},"mark":{"type":"line","color":"#1a1a1a","strokeWidth":1.1},
    "encoding":{"x":{"field":"p","type":"quantitative","scale":{"domain":[27.1,35.4],"nice":false,"zero":false},"axis":{"title":"Position","titleY":19,"titleBaseline":"middle","titleFontSize":12.5,"values":[28,29,30,31,32,33,34,35],"labelExpr":"(datum.value-29)%2!=0?'':replace(format(datum.value*1e6,'.1e'),'e+','e+0')","gridColor":{"condition":{"test":"(datum.value-29)%2!=0","value":"#e9e9e9"},"value":"#d9d9d9"},"tickOpacity":{"condition":{"test":"(datum.value-29)%2!=0","value":0},"value":1},"labelFlush":false,"labelOverlap":false}},
     "y":{"field":"v","type":"quantitative","scale":{"domain":[-0.0012,0.0312],"nice":false,"zero":false},"axis":{"title":"Nucleotide diversity","titleX":-34,"titleBaseline":"middle","values":[0,0.005,0.01,0.015,0.02,0.025,0.03],"labelExpr":"round(datum.value*1000)%10!=0?'':format(datum.value,'.2f')","gridColor":{"condition":{"test":"round(datum.value*1000)%10!=0","value":"#e9e9e9"},"value":"#d9d9d9"},"tickOpacity":{"condition":{"test":"round(datum.value*1000)%10!=0","value":0},"value":1}}}}},
   {"data":{"name":"cR"},"mark":{"type":"rect","color":"#c6c6c6","opacity":0.55},
    "encoding":{"x":{"field":"p","type":"quantitative","scale":{"domain":[27.1,35.4],"nice":false,"zero":false}},"x2":{"field":"p2"}}}
  ]}
 ]}
 ]}
]
}
